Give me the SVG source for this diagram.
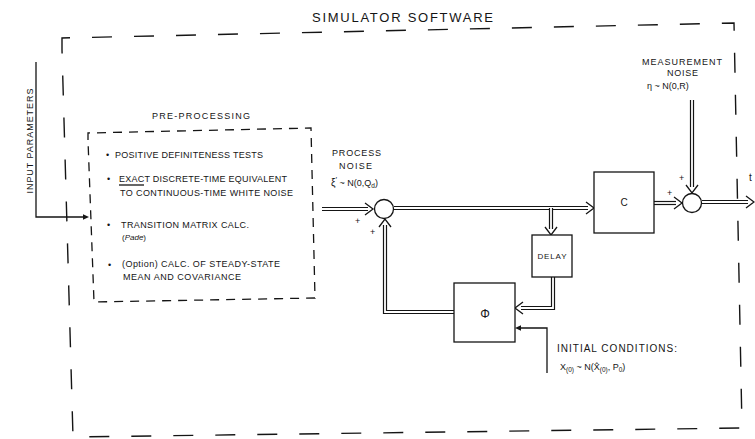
<svg xmlns="http://www.w3.org/2000/svg" xmlns:xlink="http://www.w3.org/1999/xlink" width="755" height="439" viewBox="0 0 755 439">
  <style>
    text { font-family: "Liberation Sans", Arial, sans-serif; fill: #151515; }
    .t9 { font-size: 9px; }
    .t10 { font-size: 10px; }
    .dash-outer { fill: none; stroke: #151515; stroke-width: 1.4; stroke-dasharray: 20 22; }
    .dash-inner { fill: none; stroke: #151515; stroke-width: 1.3; stroke-dasharray: 9 7; }
    .box { fill: #fff; stroke: #151515; stroke-width: 1.3; }
    .dbl-o { fill: none; stroke: #151515; stroke-width: 4.2; stroke-linejoin: miter; }
    .dbl-i { fill: none; stroke: #fff; stroke-width: 1.8; stroke-linejoin: miter; }
    .head { fill: none; stroke: #151515; stroke-width: 1.3; stroke-linejoin: miter; }
    .line { fill: none; stroke: #151515; stroke-width: 1.3; }
  </style>
  <defs>
    <!-- open chevron head for double-line flows, tip at origin pointing +x -->
    <path id="chev" d="M-8,-6 L0,0 L-8,6"/>
    <!-- small solid head for single-line flows -->
    <path id="tri" d="M-6,-2.8 L0,0 L-6,2.8 Z"/>
    <path id="p-in1" d="M322,209 L368,209"/>
    <path id="p-main" d="M394,208 L588,208"/>
    <path id="p-delay" d="M551,208 L551,229"/>
    <path id="p-c2" d="M654,203 L676,203"/>
    <path id="p-meas" d="M692,100 L692,187"/>
    <path id="p-out" d="M702,202 L748,202"/>
    <path id="p-dphi" d="M553,277 L553,308 L521,308"/>
    <path id="p-fb" d="M454,312 L385,312 L385,225"/>
  </defs>

  <rect width="755" height="439" fill="#fff"/>

  <!-- enclosing software boundary -->
  <g id="simulator">
    <path class="dash-outer" d="M62,50 L62,38 L734,23 L742,428 L73,437 Z"/>
    <text x="312" y="22" font-size="13" textLength="181" lengthAdjust="spacing">SIMULATOR SOFTWARE</text>
  </g>

  <!-- input parameters feed -->
  <g id="input">
    <text class="t9" transform="translate(33,141) rotate(-90)" text-anchor="middle" textLength="105" lengthAdjust="spacing">INPUT PARAMETERS</text>
    <path class="line" d="M36,62 L36,217 L84,217"/>
    <use xlink:href="#tri" transform="translate(89,217)" fill="#151515"/>
  </g>

  <!-- connectors -->
  <g id="connectors">
    <use xlink:href="#p-in1" class="dbl-o"/><use xlink:href="#p-in1" class="dbl-i"/>
    <use xlink:href="#chev" class="head" transform="translate(373,209)"/>

    <use xlink:href="#p-main" class="dbl-o"/><use xlink:href="#p-main" class="dbl-i"/>
    <use xlink:href="#chev" class="head" transform="translate(594,208)"/>

    <use xlink:href="#p-delay" class="dbl-o"/><use xlink:href="#p-delay" class="dbl-i"/>
    <use xlink:href="#chev" class="head" transform="translate(551,235) rotate(90)"/>

    <use xlink:href="#p-c2" class="dbl-o"/><use xlink:href="#p-c2" class="dbl-i"/>
    <use xlink:href="#chev" class="head" transform="translate(682,203)"/>

    <use xlink:href="#p-meas" class="dbl-o"/><use xlink:href="#p-meas" class="dbl-i"/>
    <use xlink:href="#chev" class="head" transform="translate(692,193) rotate(90)"/>

    <use xlink:href="#p-out" class="dbl-o"/><use xlink:href="#p-out" class="dbl-i"/>
    <use xlink:href="#chev" class="head" transform="translate(754,202)"/>

    <use xlink:href="#p-dphi" class="dbl-o"/><use xlink:href="#p-dphi" class="dbl-i"/>
    <use xlink:href="#chev" class="head" transform="translate(515,308) rotate(180)"/>

    <use xlink:href="#p-fb" class="dbl-o"/><use xlink:href="#p-fb" class="dbl-i"/>
    <use xlink:href="#chev" class="head" transform="translate(385,219) rotate(-90)"/>

    <!-- initial conditions into the transition block -->
    <path class="line" d="M547,373 L547,328 L521,328"/>
    <use xlink:href="#tri" transform="translate(515,328) rotate(180)" fill="#151515"/>
  </g>

  <!-- pre-processing stage -->
  <g id="preprocessing">
    <path class="dash-inner" d="M88,140 L88,133 L311,128 L315,298 L94,302 Z"/>
    <text class="t9" x="152" y="119" textLength="98" lengthAdjust="spacing">PRE-PROCESSING</text>
    <g class="t9">
      <text x="106" y="158">•</text>
      <text x="115" y="158" textLength="148" lengthAdjust="spacing">POSITIVE DEFINITENESS TESTS</text>
      <text x="107" y="182">•</text>
      <text x="119" y="182" textLength="168" lengthAdjust="spacing">EXACT DISCRETE-TIME EQUIVALENT</text>
      <path class="line" d="M119,185 L144,185" stroke-width="1"/>
      <text x="120" y="196" textLength="173" lengthAdjust="spacing">TO CONTINUOUS-TIME WHITE NOISE</text>
      <text x="107" y="228">•</text>
      <text x="121" y="228" textLength="128" lengthAdjust="spacing">TRANSITION MATRIX CALC.</text>
      <text x="122" y="240" font-size="8">(<tspan font-style="italic">Pade</tspan>)</text>
      <text x="108" y="268">•</text>
      <text x="122" y="267" textLength="158" lengthAdjust="spacing">(Option) CALC. OF STEADY-STATE</text>
      <text x="123" y="280" textLength="118" lengthAdjust="spacing">MEAN AND COVARIANCE</text>
    </g>
  </g>

  <!-- process noise summing junction -->
  <g id="sum-process">
    <text class="t9" x="332" y="156" textLength="49" lengthAdjust="spacing">PROCESS</text>
    <text class="t9" x="339" y="169" textLength="33" lengthAdjust="spacing">NOISE</text>
    <text class="t10" x="331" y="186">ξ<tspan font-size="8" dy="-4">′</tspan><tspan dy="4" font-size="9"> ~ N(0,Q</tspan><tspan font-size="6.5" dy="2">d</tspan><tspan font-size="9" dy="-2">)</tspan></text>
    <circle class="box" cx="384" cy="209" r="9.5"/>
    <text class="t9" x="355" y="224">+</text>
    <text class="t9" x="370" y="235">+</text>
  </g>

  <!-- measurement matrix -->
  <g id="c-block">
    <rect class="box" x="594" y="172" width="60" height="61"/>
    <text class="t10" x="624" y="206" text-anchor="middle">C</text>
  </g>

  <!-- one-step delay -->
  <g id="delay">
    <rect class="box" x="532" y="235" width="40" height="42"/>
    <text x="552" y="259" font-size="8" text-anchor="middle" textLength="29" lengthAdjust="spacing">DELAY</text>
  </g>

  <!-- state transition matrix -->
  <g id="phi">
    <rect class="box" x="454" y="283" width="61" height="59"/>
    <text x="485" y="318" font-size="12" text-anchor="middle">Φ</text>
  </g>

  <!-- measurement noise summing junction -->
  <g id="sum-measurement">
    <text class="t9" x="642" y="65" textLength="80" lengthAdjust="spacing">MEASUREMENT</text>
    <text class="t9" x="667" y="76" textLength="31" lengthAdjust="spacing">NOISE</text>
    <text class="t9" x="647" y="89">η  ~ N(0,R)</text>
    <circle class="box" cx="692" cy="203" r="9.5"/>
    <text class="t9" x="679" y="181">+</text>
    <text class="t9" x="667" y="196">+</text>
    <text class="t10" x="749" y="181">t</text>
  </g>

  <!-- initial conditions label -->
  <g id="initial-conditions">
    <text class="t10" x="557" y="352" textLength="120" lengthAdjust="spacing">INITIAL CONDITIONS:</text>
    <text class="t9" x="560" y="370">X<tspan font-size="6.5" dy="2">(0)</tspan><tspan dy="-2"> ~ N(X̂</tspan><tspan font-size="6.5" dy="2">(0)</tspan><tspan dy="-2">, P</tspan><tspan font-size="6.5" dy="2">0</tspan><tspan dy="-2">)</tspan></text>
  </g>
</svg>
